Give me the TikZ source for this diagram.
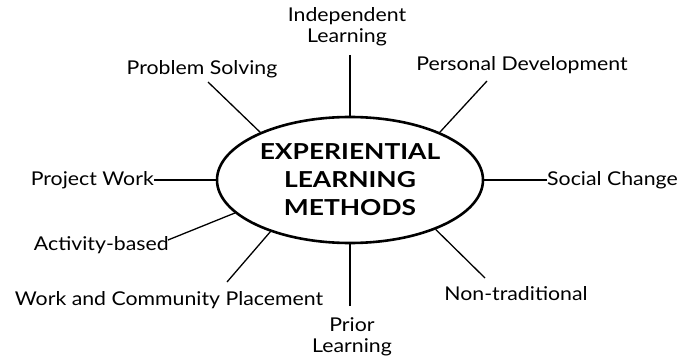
\documentclass[tikz,border=0pt]{standalone}
\usepackage{fontspec}
\setmainfont{Lato}[FakeStretch=1.12]
\newfontfamily\hubfont{Lato}[FakeStretch=1.2,UprightFont=* Bold]
\usetikzlibrary{shapes.geometric}
\begin{document}
\begin{tikzpicture}[x=1pt,y=-1pt,
  lbl/.style={font=\fontsize{19}{21}\selectfont, inner sep=0pt, align=center},
  spoke/.style={line width=1.3pt},
  hub/.style={ellipse, draw, line width=2.6pt, minimum width=266pt, minimum height=126pt, inner sep=0pt,
    font=\hubfont\fontsize{22}{28}\selectfont, align=center}]
\useasboundingbox (0,0) rectangle (677,361);
\node[hub] (E) at (350,180) {EXPERIENTIAL\\LEARNING\\METHODS};
% labels
\node[lbl] (PS) at (202,69) {Problem Solving};
\node[lbl] (IL) at (347,27) {Independent\\Learning};
\node[lbl] (PD) at (522,65) {Personal Development};
\node[lbl, anchor=east] (PW) at (154,180) {Project Work};
\node[lbl, anchor=west] (SC) at (547,180) {Social Change};
\node[lbl, anchor=east] (AB) at (169,245) {Activity-based};
\node[lbl] (WC) at (169,300) {Work and Community Placement};
\node[lbl] (PL) at (352,337) {Prior\\Learning};
\node[lbl] (NT) at (516,294) {Non-traditional};
% spoke ends
\coordinate (ps) at (208,82);
\coordinate (il) at (350,55);
\coordinate (pd) at (487,81);
\coordinate (ab) at (168,240);
\coordinate (wc) at (227,282);
\coordinate (pl) at (350,306);
\coordinate (nt) at (485,278);
% spokes
\draw[spoke] (ps) -- (E.152.4);
\draw[spoke] (il) -- (E.90);
\draw[spoke] (pd) -- (E.28.3);
\draw[spoke] (PW.east) -- (E.180);
\draw[spoke] (SC.west) -- (E.0);
\draw[spoke] (ab) -- (E.196);
\draw[spoke] (wc) -- (E.213.5);
\draw[spoke] (pl) -- (E.270);
\draw[spoke] (nt) -- (E.330.5);
\end{tikzpicture}
\end{document}
